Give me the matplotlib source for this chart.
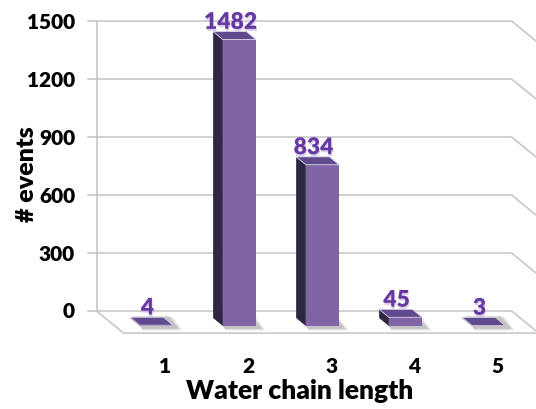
import matplotlib.pyplot as plt
import matplotlib.patheffects as pe
from matplotlib.patches import Polygon

plt.rcParams['font.family'] = ['Lato', 'DejaVu Sans']
plt.rcParams['font.weight'] = 'heavy'

# data
lengths = [1, 2, 3, 4, 5]
events = [4, 1482, 834, 45, 3]
yticks = [0, 300, 600, 900, 1200, 1500]

# colours
c_front = '#8064a6'
c_top = '#5e4a8c'
c_side = '#2e2642'
c_label = '#6538a3'
c_grid = '#c4c4c4'

# pseudo 3d: depth of the floor in data units (x in categories, y in events)
DX = 0.325
DY = -114
t0, t1 = 0.32, 0.68  # bar occupies this slice of the depth
hw = 0.2             # half width of a bar

fig = plt.figure(figsize=(5.36, 4.10), dpi=100)
ax = fig.add_axes([0, 0, 1, 1])
ax.set_xlim(-0.664, 5.794)
ax.set_ylim(-507, 1614)
ax.axis('off')

x_left = lengths[0] - 0.5
x_right = lengths[-1] + 0.5

# back wall gridlines + right side wall
for v in yticks:
    ax.plot([x_left, x_right, x_right + DX], [v, v, v + DY], color=c_grid, lw=1.1, zorder=1)
    ax.plot([x_left - 0.1, x_left], [v, v], color=c_grid, lw=1.1, zorder=1)
    ax.text(x_left - 0.26, v, str(v), ha='right', va='center', fontsize=15, color='black')

# left wall edge and floor
ax.plot([x_left, x_left], [0, yticks[-1]], color=c_grid, lw=1.1, zorder=1)
ax.plot([x_left, x_left + DX, x_right + DX], [0, DY, DY], color=c_grid, lw=1.1, zorder=1)

for k, v in zip(lengths, events):
    xl0 = k - hw + t0 * DX
    xl1 = k - hw + t1 * DX
    xr0 = k + hw + t0 * DX
    xr1 = k + hw + t1 * DX
    y0 = t0 * DY
    y1 = t1 * DY

    # soft shadow on the floor
    for grow, a in [(0.06, 0.12), (0.035, 0.18), (0.015, 0.25)]:
        sh = Polygon([(xl0 + 0.03, y0 + 8), (xr0 + 0.05 + grow, y0 + 8),
                      (xr1 + 0.06 + grow, y1 - 12 - grow * 200), (xl1 + 0.03, y1 - 12 - grow * 200)],
                     closed=True, facecolor='#808080', edgecolor='none', alpha=a, zorder=2)
        ax.add_patch(sh)

    side = Polygon([(xl0, y0), (xl1, y1), (xl1, v + y1), (xl0, v + y0)],
                   closed=True, facecolor=c_side, edgecolor='none', zorder=3)
    front = Polygon([(xl1, y1), (xr1, y1), (xr1, v + y1), (xl1, v + y1)],
                    closed=True, facecolor=c_front, edgecolor='none', zorder=3)
    top = Polygon([(xl0, v + y0), (xr0, v + y0), (xr1, v + y1), (xl1, v + y1)],
                  closed=True, facecolor=c_top, edgecolor='#d8d0e4', lw=0.6, zorder=4)
    ax.add_patch(side)
    ax.add_patch(front)
    ax.add_patch(top)

    # value label above the middle of the bar
    ax.annotate(str(v), (k + 0.5 * DX - 0.05, v + 0.5 * DY), xytext=(0, 9.5),
                textcoords='offset points', ha='center', va='center',
                fontsize=16.5, color=c_label, zorder=5,
                path_effects=[pe.withSimplePatchShadow(offset=(0.5, -1.5),
                                                       shadow_rgbFace='#c9bcdc', alpha=0.7)])

    ax.text(k + DX, -284, str(k), ha='center', va='center', fontsize=15, color='black')

ax.text(2.95, -410, 'Water chain length', ha='center', va='center', fontsize=19, color='black')
ax.text(-0.34, 714, '# events', ha='center', va='center', rotation=90, fontsize=18, color='black')

fig.savefig('out.png', dpi=100)
